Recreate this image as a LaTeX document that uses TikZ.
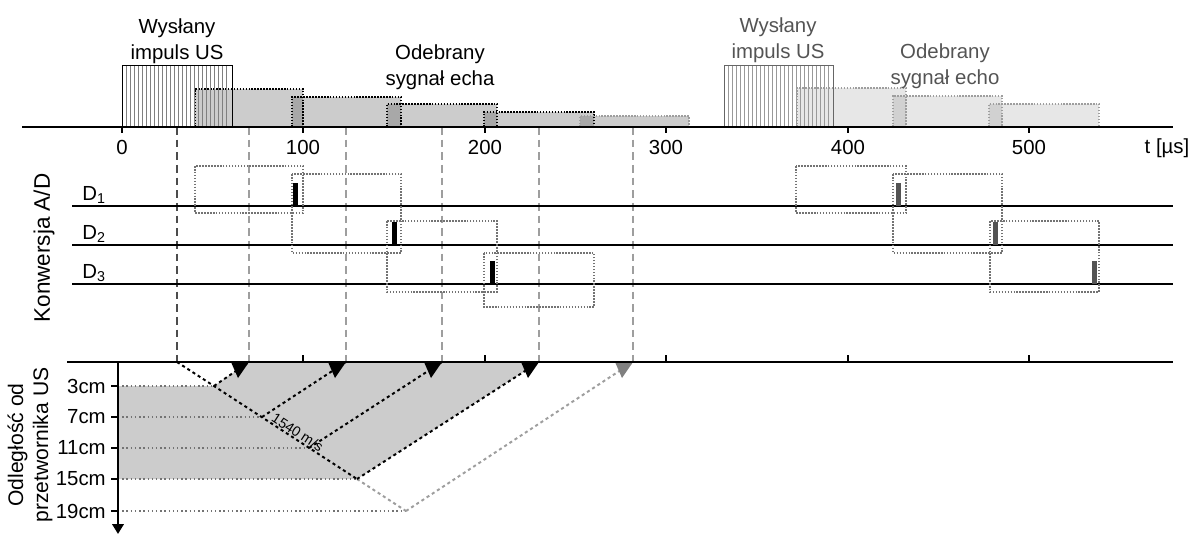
\documentclass[tikz,border=0pt]{standalone}
\usepackage{fontspec}
\setmainfont{Liberation Sans}
\usetikzlibrary{arrows.meta,positioning,calc}

\definecolor{echoA}{gray}{0.80}
\definecolor{echoAdark}{gray}{0.66}
\definecolor{echoB}{gray}{0.905}
\definecolor{echoBdark}{gray}{0.82}
\definecolor{dotgray}{gray}{0.45}
\definecolor{guidegray}{gray}{0.62}
\definecolor{secondgray}{gray}{0.33}

\begin{document}
\begin{tikzpicture}[x=0.025cm, y=-0.025cm,
  txt/.style={font=\fontsize{14.5}{18.5}\selectfont, inner sep=0pt},
  ax/.style={line width=1.8pt},
  rowline/.style={line width=1.6pt},
  tick/.style={line width=1pt},
  echoedge/.style={densely dotted, line width=1.1pt},
  dotbox/.style={dotgray, densely dotted, line width=1.1pt},
  guide/.style={guidegray, dash pattern=on 5.5pt off 3.5pt, line width=1pt},
  ray/.style={dash pattern=on 2.2pt off 2.2pt, line width=1.4pt},
  depthline/.style={dotgray, dotted, line width=1pt},
  hatch/.style={line width=0.45pt}
]
\useasboundingbox (0,0) rectangle (1192,535);

% received echoes, first pulse
\foreach \a/\b/\t in {195/303/89, 292/401/97, 387/497/104, 484/594/112, 580/689/116}
  \fill[echoA] (\a,\t) rectangle (\b,127);
\foreach \a/\b/\t in {292/303/97, 387/401/104, 484/497/112, 580/594/116}
  \fill[echoAdark] (\a,\t) rectangle (\b,127);
\foreach \a/\b/\t in {195/303/89, 292/401/97, 387/497/104, 484/594/112}
  \draw[echoedge] (\a,127) |- (\b,\t) -- (\b,127);
\draw[echoedge, guidegray] (580,127) |- (689,116) -- (689,127);

% received echoes, second pulse
\foreach \a/\b/\t in {797/906/88, 893/1002/96, 989/1099/104}
  \fill[echoB] (\a,\t) rectangle (\b,127);
\foreach \a/\b/\t in {893/906/96, 989/1002/104}
  \fill[echoBdark] (\a,\t) rectangle (\b,127);
\foreach \a/\b/\t in {797/906/88, 893/1002/96, 989/1099/104}
  \draw[echoedge, guidegray] (\a,127) |- (\b,\t) -- (\b,127);

% sent pulses
\foreach \x in {126,130,...,229} \draw[hatch, black!50] (\x,65) -- (\x,127);
\draw[hatch, line width=0.7pt] (122,127) rectangle (232,65);
\foreach \x in {728,732,...,830} \draw[hatch, black!40] (\x,65) -- (\x,127);
\draw[hatch, line width=0.7pt, black!60] (724,127) rectangle (833,65);

% labels above the time axis
\node[txt, align=center, anchor=north] (sent1) at (177,18) {Wysłany\\impuls US};
\node[txt, align=center, anchor=north] (echo1) at (440,44) {Odebrany\\sygnał echa};
\node[txt, align=center, anchor=north, secondgray] (sent2) at (778,17) {Wysłany\\impuls US};
\node[txt, align=center, anchor=north, secondgray] (echo2) at (945,43) {Odebrany\\sygnał echo};

% guide lines
\coordinate (o) at (177,362);
\draw[guide, black!70] (177,127) -- (o);
\foreach \x in {249,346,442,539,633}
  \draw[guide] (\x,127) -- (\x,362);

% time axis
\draw[ax] (22,127) -- (1173,127);
\foreach \x/\v in {122/0, 303/100, 485/200, 666/300, 848/400, 1029/500} {
  \draw[tick] (\x,127) -- (\x,133);
  \node[txt] (tl\v) at (\x,147) {\v};
}
\node[txt] (tunit) at (1167,148) {t [µs]};

% A/D conversion rows
\foreach \y/\i in {206/1, 245/2, 284/3} {
  \draw[rowline] (72,\y) -- (1173,\y);
  \node[txt, anchor=base west] (D\i) at (82,\y-6) {D\textsubscript{\i}};
}
\foreach \a/\b/\t/\u in {195/303/166/213, 292/401/174/253, 387/497/221/292, 484/594/253/307,
                         796/906/166/213, 893/1002/174/253, 990/1099/221/292}
  \draw[dotbox] (\a,\t) rectangle (\b,\u);
\foreach \x/\y in {293/206, 392/245, 490/284}
  \fill (\x,\y-23) rectangle (\x+5,\y);
\foreach \x/\y in {896/206, 993/245, 1092/284}
  \fill[secondgray] (\x,\y-23) rectangle (\x+5,\y);
\node[rotate=90, font=\fontsize{16}{19}\selectfont, inner sep=0pt] (adc) at (44,248) {Konwersja A/D};

% depth diagram
\coordinate (p3) at (214,386);
\coordinate (p7) at (262,417);
\coordinate (p11) at (309,448);
\coordinate (p15) at (357,479);
\coordinate (p19) at (406,511);
\coordinate (a3) at (249,362);
\coordinate (a7) at (346,362);
\coordinate (a11) at (442,362);
\coordinate (a15) at (539,362);
\coordinate (a19) at (633,362);

\fill[echoA] (118,386) -- (p3) -- (a3) -- (a15) -- (p15) -- (118,479) -- cycle;
\foreach \y/\p in {386/p3, 417/p7, 448/p11, 479/p15, 511/p19}
  \draw[depthline] (118,\y) -- (\p);

\draw[ray] (o) -- node[sloped, above, pos=0.65, inner sep=0.5pt, font=\fontsize{10}{12}\selectfont] (vel) {1540 m/s} (p15);
\draw[ray, guidegray] (p15) -- (p19);
\draw[ray] (p3) -- (a3);
\draw[ray] (p7) -- (a7);
\draw[ray] (p11) -- (a11);
\draw[ray] (p15) -- (a15);
\draw[ray, guidegray] (p19) -- (a19);
\foreach \x/\c in {249/black, 346/black, 442/black, 539/black, 633/black!50}
  \fill[\c] (\x-18,362) -- (\x,362) -- (\x-11,378) -- cycle;

\draw[ax] (67,362) -- (1173,362);
\foreach \x in {303,485,666,848,1029}
  \draw[tick] (\x,362) -- (\x,355);
\draw[ax, -{Triangle[length=7pt, width=8pt]}] (118,362) -- (118,534);
\foreach \y/\dep in {386/3, 417/7, 448/11, 479/15, 511/19} {
  \draw[tick] (111,\y) -- (118,\y);
  \node[txt, anchor=east] (dl\dep) at (106,\y) {\dep cm};
}
\node[rotate=90, align=center, font=\fontsize{15}{17.8}\selectfont, inner sep=0pt] (depth) at (30,445) {Odległość od\\przetwornika US};
\end{tikzpicture}
\end{document}
